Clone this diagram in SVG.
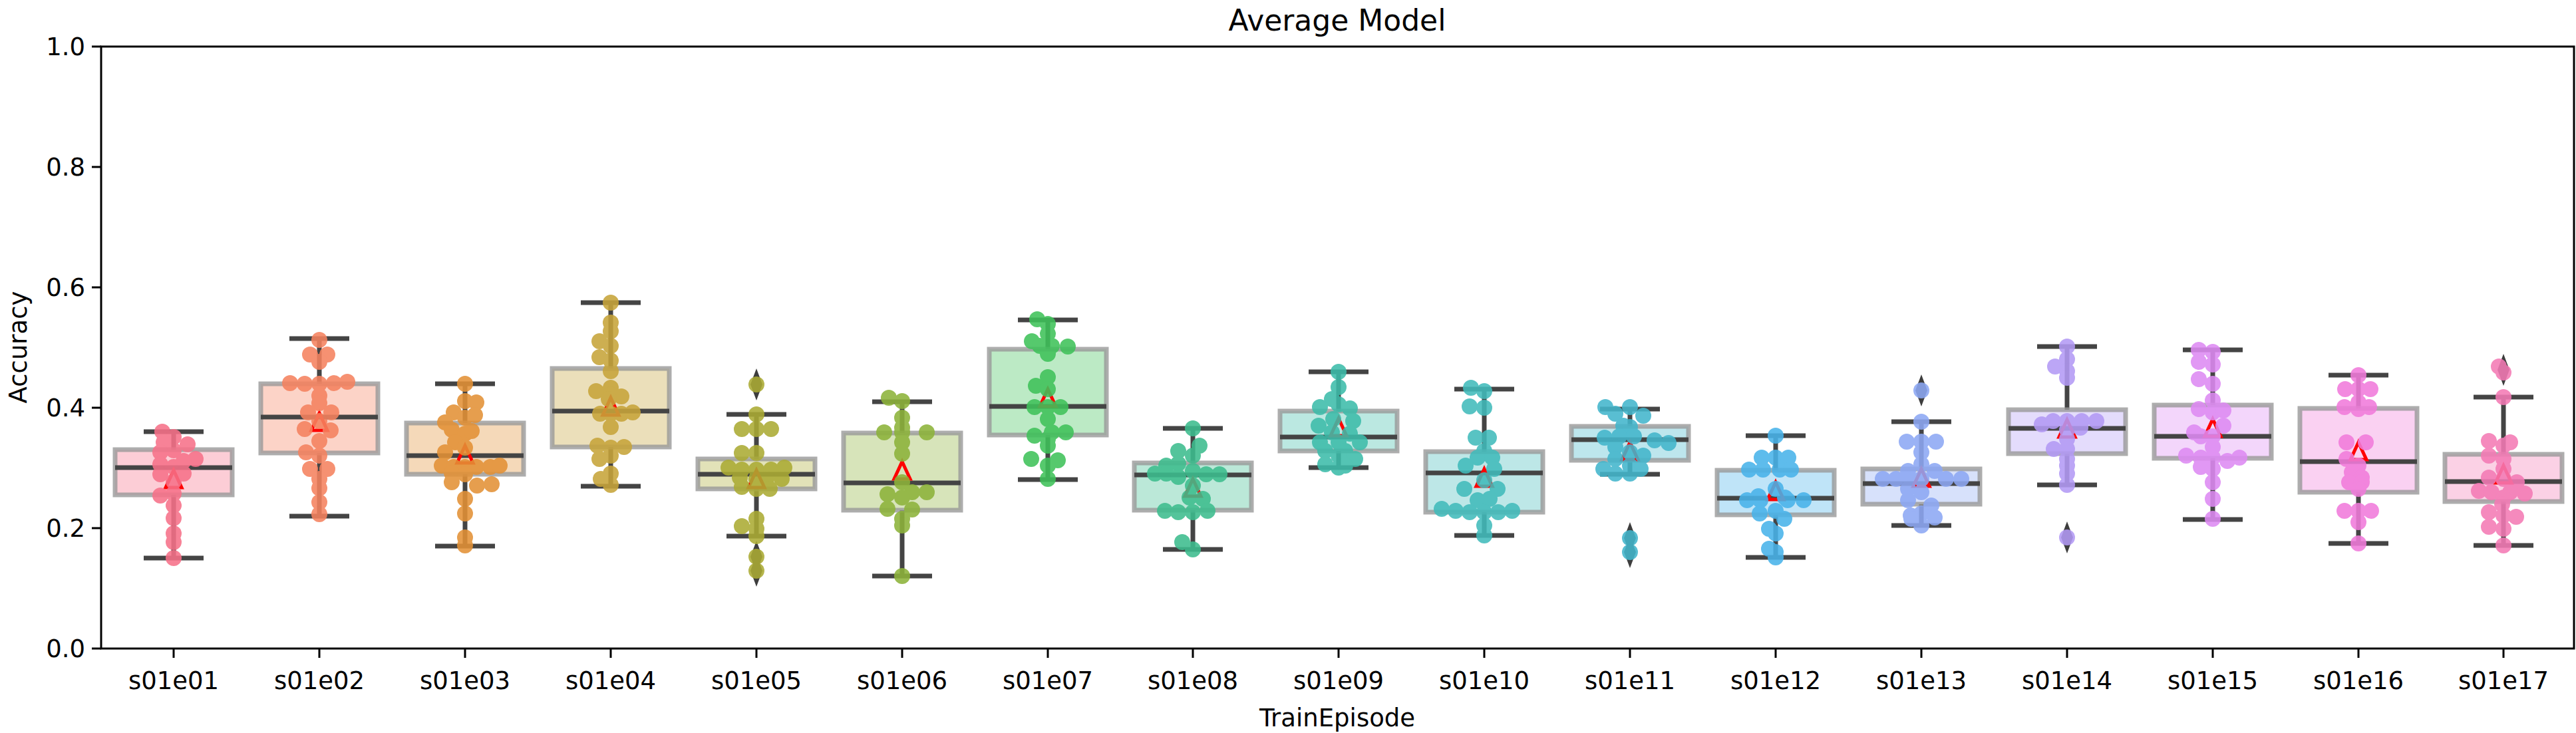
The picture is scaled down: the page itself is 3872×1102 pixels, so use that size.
<svg xmlns="http://www.w3.org/2000/svg" width="3872" height="1102" viewBox="0 0 3872 1102">
<style>
text{font-family:"DejaVu Sans","Liberation Sans",sans-serif;fill:#000}
.tl{font-size:37px;text-anchor:end}
.xl{font-size:37px;text-anchor:middle}
.box{fill-opacity:.35;stroke:#999;stroke-opacity:.8;stroke-width:7}
.wh{stroke:#444;stroke-width:7;fill:none}
.mean{fill:none;stroke:#f00;stroke-width:5}
.dots circle{r:12px}
.dots{opacity:.88}
.out{fill:#3d3d3d}
</style>
<defs>
<path id="dia" d="M0,-24 L9,0 L0,24 L-9,0Z"/>
<path id="tri" d="M0,-15 L12,11 L-12,11Z"/>
</defs>
<rect width="3872" height="1102" fill="#fff"/>
<text x="2010" y="46" style="font-size:44px" text-anchor="middle">Average Model</text>
<g id="axes" stroke="#000" stroke-width="3">
<rect x="152" y="70" width="3717" height="905" fill="none"/>
<path d="M138,975H152M138,794H152M138,613H152M138,432H152M138,251H152M138,70H152"/>
<path d="M261,975v14M480,975v14M699,975v14M918,975v14M1137,975v14M1356,975v14M1575,975v14M1793,975v14M2012,975v14M2231,975v14M2450,975v14M2669,975v14M2888,975v14M3107,975v14M3326,975v14M3545,975v14M3763,975v14"/>
</g>
<g id="yticks">
<text class="tl" x="128" y="988">0.0</text><text class="tl" x="128" y="807">0.2</text><text class="tl" x="128" y="626">0.4</text><text class="tl" x="128" y="445">0.6</text><text class="tl" x="128" y="264">0.8</text><text class="tl" x="128" y="83">1.0</text>
</g>
<text transform="translate(40,522) rotate(-90)" text-anchor="middle" style="font-size:37px">Accuracy</text>
<text x="2010" y="1092" text-anchor="middle" style="font-size:37px">TrainEpisode</text>
<g id="xticks">
<text class="xl" x="261" y="1036">s01e01</text><text class="xl" x="480" y="1036">s01e02</text><text class="xl" x="699" y="1036">s01e03</text><text class="xl" x="918" y="1036">s01e04</text><text class="xl" x="1137" y="1036">s01e05</text><text class="xl" x="1356" y="1036">s01e06</text><text class="xl" x="1575" y="1036">s01e07</text><text class="xl" x="1793" y="1036">s01e08</text><text class="xl" x="2012" y="1036">s01e09</text><text class="xl" x="2231" y="1036">s01e10</text><text class="xl" x="2450" y="1036">s01e11</text><text class="xl" x="2669" y="1036">s01e12</text><text class="xl" x="2888" y="1036">s01e13</text><text class="xl" x="3107" y="1036">s01e14</text><text class="xl" x="3326" y="1036">s01e15</text><text class="xl" x="3545" y="1036">s01e16</text><text class="xl" x="3763" y="1036">s01e17</text>
</g>

<g id="s01e01" transform="translate(261,0)">
<path class="wh" d="M0,676V649M-45,649H45M0,744V839M-45,839H45"/>
<rect class="box" x="-88" y="676" width="176" height="68" fill="#f77189"/>
<path class="wh" d="M-88,703H88"/>
<use href="#tri" class="mean" y="722"/>
<g class="dots" fill="#f77189"><circle cx="-17" cy="649"/><circle cx="0" cy="657"/><circle cx="-15" cy="665"/><circle cx="21" cy="668"/><circle cx="0" cy="677"/><circle cx="-20" cy="680"/><circle cx="33" cy="690"/><circle cx="-20" cy="698"/><circle cx="0" cy="702"/><circle cx="15" cy="693"/><circle cx="-20" cy="713"/><circle cx="15" cy="712"/><circle cx="0" cy="724"/><circle cx="-20" cy="745"/><circle cx="0" cy="742"/><circle cx="0" cy="760"/><circle cx="0" cy="779"/><circle cx="0" cy="802"/><circle cx="0" cy="815"/><circle cx="0" cy="839"/></g>
</g>

<g id="s01e02" transform="translate(480,0)">
<path class="wh" d="M0,577V509M-45,509H45M0,681V776M-45,776H45"/>
<rect class="box" x="-88" y="577" width="176" height="104" fill="#f5825f"/>
<path class="wh" d="M-88,627H88"/>
<use href="#tri" class="mean" y="636"/>
<g class="dots" fill="#f5825f"><circle cx="0" cy="511"/><circle cx="-14" cy="533"/><circle cx="12" cy="533"/><circle cx="0" cy="544"/><circle cx="-44" cy="576"/><circle cx="-22" cy="577"/><circle cx="0" cy="577"/><circle cx="22" cy="576"/><circle cx="42" cy="574"/><circle cx="0" cy="595"/><circle cx="0" cy="606"/><circle cx="-17" cy="620"/><circle cx="18" cy="620"/><circle cx="0" cy="633"/><circle cx="-22" cy="645"/><circle cx="17" cy="647"/><circle cx="0" cy="663"/><circle cx="-20" cy="680"/><circle cx="0" cy="685"/><circle cx="-14" cy="705"/><circle cx="12" cy="705"/><circle cx="0" cy="720"/><circle cx="0" cy="734"/><circle cx="0" cy="755"/><circle cx="0" cy="773"/></g>
</g>

<g id="s01e03" transform="translate(699,0)">
<path class="wh" d="M0,636V577M-45,577H45M0,713V821M-45,821H45"/>
<rect class="box" x="-88" y="636" width="176" height="77" fill="#e39136"/>
<path class="wh" d="M-88,685H88"/>
<use href="#tri" class="mean" y="685"/>
<g class="dots" fill="#e39136"><circle cx="0" cy="577"/><circle cx="0" cy="603"/><circle cx="17" cy="605"/><circle cx="-17" cy="620"/><circle cx="0" cy="628"/><circle cx="15" cy="624"/><circle cx="-30" cy="635"/><circle cx="-20" cy="646"/><circle cx="0" cy="652"/><circle cx="10" cy="648"/><circle cx="-15" cy="665"/><circle cx="0" cy="673"/><circle cx="-30" cy="680"/><circle cx="-35" cy="700"/><circle cx="0" cy="702"/><circle cx="-17" cy="702"/><circle cx="17" cy="702"/><circle cx="38" cy="702"/><circle cx="52" cy="700"/><circle cx="-20" cy="711"/><circle cx="0" cy="713"/><circle cx="-20" cy="725"/><circle cx="18" cy="730"/><circle cx="40" cy="728"/><circle cx="0" cy="750"/><circle cx="0" cy="772"/><circle cx="0" cy="808"/><circle cx="0" cy="820"/></g>
</g>

<g id="s01e04" transform="translate(918,0)">
<path class="wh" d="M0,554V455M-45,455H45M0,672V731M-45,731H45"/>
<rect class="box" x="-88" y="554" width="176" height="118" fill="#c7a43a"/>
<path class="wh" d="M-88,618H88"/>
<use href="#tri" class="mean" y="613"/>
<g class="dots" fill="#c7a43a"><circle cx="0" cy="455"/><circle cx="0" cy="485"/><circle cx="0" cy="498"/><circle cx="-17" cy="513"/><circle cx="0" cy="520"/><circle cx="-17" cy="537"/><circle cx="0" cy="542"/><circle cx="0" cy="558"/><circle cx="-22" cy="588"/><circle cx="0" cy="583"/><circle cx="0" cy="593"/><circle cx="16" cy="596"/><circle cx="-3" cy="600"/><circle cx="-16" cy="622"/><circle cx="0" cy="622"/><circle cx="16" cy="622"/><circle cx="33" cy="620"/><circle cx="0" cy="642"/><circle cx="-20" cy="670"/><circle cx="0" cy="673"/><circle cx="20" cy="672"/><circle cx="0" cy="685"/><circle cx="-17" cy="690"/><circle cx="0" cy="712"/><circle cx="0" cy="729"/><circle cx="-15" cy="720"/></g>
</g>

<g id="s01e05" transform="translate(1137,0)">
<path class="wh" d="M0,690V623M-45,623H45M0,735V806M-45,806H45"/>
<rect class="box" x="-88" y="690" width="176" height="45" fill="#abab34"/>
<path class="wh" d="M-88,713H88"/>
<use href="#tri" class="mean" y="722"/>
<use href="#dia" class="out" y="578"/><use href="#dia" class="out" y="837"/><use href="#dia" class="out" y="858"/>
<g class="dots" fill="#abab34"><circle cx="0" cy="578"/><circle cx="0" cy="623"/><circle cx="-22" cy="645"/><circle cx="0" cy="645"/><circle cx="22" cy="645"/><circle cx="-22" cy="681"/><circle cx="0" cy="681"/><circle cx="-42" cy="703"/><circle cx="-22" cy="706"/><circle cx="0" cy="706"/><circle cx="22" cy="706"/><circle cx="42" cy="703"/><circle cx="-25" cy="718"/><circle cx="0" cy="720"/><circle cx="15" cy="720"/><circle cx="38" cy="720"/><circle cx="-22" cy="732"/><circle cx="0" cy="735"/><circle cx="20" cy="735"/><circle cx="0" cy="780"/><circle cx="-22" cy="791"/><circle cx="0" cy="795"/><circle cx="0" cy="806"/><circle cx="0" cy="837"/><circle cx="0" cy="858"/></g>
</g>

<g id="s01e06" transform="translate(1356,0)">
<path class="wh" d="M0,651V604M-45,604H45M0,767V866M-45,866H45"/>
<rect class="box" x="-88" y="651" width="176" height="116" fill="#8db33a"/>
<path class="wh" d="M-88,726H88"/>
<use href="#tri" class="mean" y="709"/>
<g class="dots" fill="#8db33a"><circle cx="-20" cy="598"/><circle cx="0" cy="603"/><circle cx="0" cy="628"/><circle cx="0" cy="643"/><circle cx="-27" cy="650"/><circle cx="0" cy="650"/><circle cx="37" cy="650"/><circle cx="0" cy="665"/><circle cx="0" cy="682"/><circle cx="0" cy="725"/><circle cx="-22" cy="743"/><circle cx="15" cy="740"/><circle cx="37" cy="740"/><circle cx="0" cy="748"/><circle cx="-22" cy="765"/><circle cx="15" cy="766"/><circle cx="0" cy="780"/><circle cx="0" cy="790"/><circle cx="0" cy="866"/></g>
</g>

<g id="s01e07" transform="translate(1575,0)">
<path class="wh" d="M0,525V481M-45,481H45M0,654V721M-45,721H45"/>
<rect class="box" x="-88" y="525" width="176" height="129" fill="#3fc25a"/>
<path class="wh" d="M-88,611H88"/>
<use href="#tri" class="mean" y="600"/>
<g class="dots" fill="#3fc25a"><circle cx="-16" cy="480"/><circle cx="0" cy="487"/><circle cx="0" cy="502"/><circle cx="-24" cy="513"/><circle cx="-12" cy="520"/><circle cx="6" cy="520"/><circle cx="30" cy="521"/><circle cx="0" cy="532"/><circle cx="0" cy="567"/><circle cx="-18" cy="580"/><circle cx="0" cy="585"/><circle cx="-20" cy="612"/><circle cx="0" cy="612"/><circle cx="19" cy="612"/><circle cx="0" cy="630"/><circle cx="-20" cy="655"/><circle cx="6" cy="650"/><circle cx="27" cy="650"/><circle cx="0" cy="660"/><circle cx="0" cy="670"/><circle cx="-25" cy="690"/><circle cx="15" cy="692"/><circle cx="0" cy="700"/><circle cx="0" cy="720"/></g>
</g>

<g id="s01e08" transform="translate(1793,0)">
<path class="wh" d="M0,696V644M-45,644H45M0,767V826M-45,826H45"/>
<rect class="box" x="-88" y="696" width="176" height="71" fill="#3dbd8e"/>
<path class="wh" d="M-88,714H88"/>
<use href="#tri" class="mean" y="735"/>
<g class="dots" fill="#3dbd8e"><circle cx="0" cy="644"/><circle cx="10" cy="670"/><circle cx="-22" cy="678"/><circle cx="0" cy="685"/><circle cx="-22" cy="697"/><circle cx="0" cy="708"/><circle cx="-40" cy="700"/><circle cx="-57" cy="712"/><circle cx="-40" cy="712"/><circle cx="20" cy="713"/><circle cx="40" cy="713"/><circle cx="-22" cy="717"/><circle cx="0" cy="730"/><circle cx="-5" cy="748"/><circle cx="15" cy="750"/><circle cx="-42" cy="768"/><circle cx="-22" cy="770"/><circle cx="0" cy="770"/><circle cx="22" cy="768"/><circle cx="-16" cy="815"/><circle cx="0" cy="826"/></g>
</g>

<g id="s01e09" transform="translate(2012,0)">
<path class="wh" d="M0,618V559M-45,559H45M0,678V703M-45,703H45"/>
<rect class="box" x="-88" y="618" width="176" height="60" fill="#3dbcaa"/>
<path class="wh" d="M-88,657H88"/>
<use href="#tri" class="mean" y="644"/>
<g class="dots" fill="#3dbcaa"><circle cx="0" cy="559"/><circle cx="0" cy="582"/><circle cx="-10" cy="600"/><circle cx="0" cy="608"/><circle cx="17" cy="614"/><circle cx="-8" cy="630"/><circle cx="22" cy="633"/><circle cx="-10" cy="650"/><circle cx="17" cy="652"/><circle cx="0" cy="665"/><circle cx="-28" cy="665"/><circle cx="32" cy="665"/><circle cx="-20" cy="678"/><circle cx="10" cy="678"/><circle cx="0" cy="685"/><circle cx="25" cy="690"/><circle cx="-20" cy="698"/><circle cx="0" cy="703"/><circle cx="-28" cy="612"/><circle cx="-30" cy="640"/><circle cx="10" cy="700"/></g>
</g>

<g id="s01e10" transform="translate(2231,0)">
<path class="wh" d="M0,679V585M-45,585H45M0,770V805M-45,805H45"/>
<rect class="box" x="-88" y="679" width="176" height="91" fill="#41bbbb"/>
<path class="wh" d="M-88,711H88"/>
<use href="#tri" class="mean" y="720"/>
<g class="dots" fill="#41bbbb"><circle cx="-20" cy="583"/><circle cx="0" cy="588"/><circle cx="-22" cy="611"/><circle cx="0" cy="613"/><circle cx="-13" cy="658"/><circle cx="7" cy="658"/><circle cx="0" cy="678"/><circle cx="-10" cy="688"/><circle cx="12" cy="688"/><circle cx="-28" cy="700"/><circle cx="15" cy="705"/><circle cx="0" cy="722"/><circle cx="-30" cy="735"/><circle cx="20" cy="735"/><circle cx="-10" cy="752"/><circle cx="8" cy="750"/><circle cx="-64" cy="765"/><circle cx="-43" cy="768"/><circle cx="-22" cy="770"/><circle cx="0" cy="770"/><circle cx="21" cy="770"/><circle cx="42" cy="768"/><circle cx="0" cy="790"/><circle cx="0" cy="805"/></g>
</g>

<g id="s01e11" transform="translate(2450,0)">
<path class="wh" d="M0,641V615M-45,615H45M0,692V713M-45,713H45"/>
<rect class="box" x="-88" y="641" width="176" height="51" fill="#43b6cc"/>
<path class="wh" d="M-88,661H88"/>
<use href="#tri" class="mean" y="680"/>
<use href="#dia" class="out" y="809"/><use href="#dia" class="out" y="830"/>
<g class="dots" fill="#43b6cc"><circle cx="-37" cy="612"/><circle cx="0" cy="612"/><circle cx="-22" cy="622"/><circle cx="20" cy="625"/><circle cx="-10" cy="640"/><circle cx="0" cy="642"/><circle cx="-38" cy="658"/><circle cx="-16" cy="656"/><circle cx="6" cy="656"/><circle cx="37" cy="662"/><circle cx="58" cy="666"/><circle cx="-22" cy="672"/><circle cx="0" cy="680"/><circle cx="20" cy="685"/><circle cx="-22" cy="690"/><circle cx="0" cy="700"/><circle cx="-40" cy="705"/><circle cx="16" cy="705"/><circle cx="-22" cy="712"/><circle cx="0" cy="712"/><circle cx="0" cy="809"/><circle cx="0" cy="830"/></g>
</g>

<g id="s01e12" transform="translate(2669,0)">
<path class="wh" d="M0,707V655M-45,655H45M0,774V838M-45,838H45"/>
<rect class="box" x="-88" y="707" width="176" height="67" fill="#48b3ea"/>
<path class="wh" d="M-88,749H88"/>
<use href="#tri" class="mean" y="740"/>
<g class="dots" fill="#48b3ea"><circle cx="0" cy="655"/><circle cx="-21" cy="688"/><circle cx="0" cy="688"/><circle cx="19" cy="688"/><circle cx="-40" cy="706"/><circle cx="-19" cy="706"/><circle cx="6" cy="706"/><circle cx="23" cy="706"/><circle cx="0" cy="735"/><circle cx="-26" cy="746"/><circle cx="14" cy="748"/><circle cx="-43" cy="752"/><circle cx="-23" cy="752"/><circle cx="18" cy="752"/><circle cx="42" cy="752"/><circle cx="0" cy="768"/><circle cx="-24" cy="772"/><circle cx="13" cy="780"/><circle cx="-10" cy="795"/><circle cx="0" cy="802"/><circle cx="0" cy="830"/><circle cx="-10" cy="825"/><circle cx="0" cy="838"/></g>
</g>

<g id="s01e13" transform="translate(2888,0)">
<path class="wh" d="M0,705V634M-45,634H45M0,758V790M-45,790H45"/>
<rect class="box" x="-88" y="705" width="176" height="53" fill="#8da8f4"/>
<path class="wh" d="M-88,727H88"/>
<use href="#tri" class="mean" y="720"/>
<use href="#dia" class="out" y="587"/>
<g class="dots" fill="#8da8f4"><circle cx="0" cy="587"/><circle cx="0" cy="634"/><circle cx="-22" cy="664"/><circle cx="0" cy="664"/><circle cx="22" cy="664"/><circle cx="0" cy="680"/><circle cx="0" cy="698"/><circle cx="-20" cy="708"/><circle cx="20" cy="708"/><circle cx="-58" cy="720"/><circle cx="-38" cy="720"/><circle cx="-17" cy="720"/><circle cx="0" cy="720"/><circle cx="37" cy="720"/><circle cx="60" cy="720"/><circle cx="-20" cy="735"/><circle cx="0" cy="740"/><circle cx="-20" cy="752"/><circle cx="15" cy="760"/><circle cx="-16" cy="775"/><circle cx="0" cy="772"/><circle cx="20" cy="778"/><circle cx="0" cy="790"/><circle cx="-15" cy="780"/></g>
</g>

<g id="s01e14" transform="translate(3107,0)">
<path class="wh" d="M0,616V521M-45,521H45M0,682V729M-45,729H45"/>
<rect class="box" x="-88" y="616" width="176" height="66" fill="#b39af5"/>
<path class="wh" d="M-88,644H88"/>
<use href="#tri" class="mean" y="646"/>
<use href="#dia" class="out" y="808"/>
<g class="dots" fill="#b39af5"><circle cx="0" cy="521"/><circle cx="0" cy="540"/><circle cx="-18" cy="551"/><circle cx="0" cy="558"/><circle cx="0" cy="568"/><circle cx="-21" cy="633"/><circle cx="0" cy="633"/><circle cx="22" cy="633"/><circle cx="44" cy="633"/><circle cx="-38" cy="638"/><circle cx="20" cy="643"/><circle cx="0" cy="646"/><circle cx="0" cy="660"/><circle cx="-20" cy="675"/><circle cx="0" cy="675"/><circle cx="0" cy="690"/><circle cx="0" cy="700"/><circle cx="0" cy="712"/><circle cx="0" cy="729"/><circle cx="0" cy="808"/></g>
</g>

<g id="s01e15" transform="translate(3326,0)">
<path class="wh" d="M0,609V526M-45,526H45M0,689V781M-45,781H45"/>
<rect class="box" x="-88" y="609" width="176" height="80" fill="#de8af3"/>
<path class="wh" d="M-88,656H88"/>
<use href="#tri" class="mean" y="645"/>
<g class="dots" fill="#de8af3"><circle cx="-21" cy="526"/><circle cx="0" cy="529"/><circle cx="-21" cy="544"/><circle cx="0" cy="548"/><circle cx="-21" cy="570"/><circle cx="0" cy="577"/><circle cx="0" cy="602"/><circle cx="-21" cy="615"/><circle cx="0" cy="620"/><circle cx="16" cy="617"/><circle cx="16" cy="640"/><circle cx="-28" cy="650"/><circle cx="-18" cy="656"/><circle cx="0" cy="656"/><circle cx="0" cy="672"/><circle cx="-40" cy="685"/><circle cx="-18" cy="688"/><circle cx="0" cy="688"/><circle cx="22" cy="693"/><circle cx="40" cy="688"/><circle cx="-18" cy="702"/><circle cx="0" cy="705"/><circle cx="0" cy="725"/><circle cx="0" cy="750"/><circle cx="0" cy="780"/></g>
</g>

<g id="s01e16" transform="translate(3545,0)">
<path class="wh" d="M0,614V564M-45,564H45M0,740V817M-45,817H45"/>
<rect class="box" x="-88" y="614" width="176" height="126" fill="#f17bdb"/>
<path class="wh" d="M-88,694H88"/>
<use href="#tri" class="mean" y="680"/>
<g class="dots" fill="#f17bdb"><circle cx="0" cy="564"/><circle cx="-20" cy="585"/><circle cx="0" cy="585"/><circle cx="18" cy="585"/><circle cx="0" cy="605"/><circle cx="-21" cy="612"/><circle cx="0" cy="615"/><circle cx="16" cy="612"/><circle cx="-18" cy="665"/><circle cx="11" cy="665"/><circle cx="-18" cy="690"/><circle cx="0" cy="700"/><circle cx="-10" cy="710"/><circle cx="5" cy="718"/><circle cx="-14" cy="725"/><circle cx="5" cy="725"/><circle cx="0" cy="735"/><circle cx="-21" cy="768"/><circle cx="0" cy="768"/><circle cx="19" cy="768"/><circle cx="0" cy="785"/><circle cx="0" cy="817"/></g>
</g>

<g id="s01e17" transform="translate(3763,0)">
<path class="wh" d="M0,683V597M-45,597H45M0,754V820M-45,820H45"/>
<rect class="box" x="-88" y="683" width="176" height="71" fill="#f47ab5"/>
<path class="wh" d="M-88,724H88"/>
<use href="#tri" class="mean" y="715"/>
<use href="#dia" class="out" y="556"/>
<g class="dots" fill="#f47ab5"><circle cx="-7" cy="551"/><circle cx="0" cy="560"/><circle cx="0" cy="597"/><circle cx="-22" cy="663"/><circle cx="0" cy="670"/><circle cx="10" cy="665"/><circle cx="-22" cy="685"/><circle cx="0" cy="690"/><circle cx="0" cy="705"/><circle cx="-22" cy="718"/><circle cx="0" cy="720"/><circle cx="20" cy="725"/><circle cx="-37" cy="738"/><circle cx="-18" cy="740"/><circle cx="10" cy="740"/><circle cx="32" cy="742"/><circle cx="0" cy="748"/><circle cx="-2" cy="758"/><circle cx="-22" cy="770"/><circle cx="0" cy="775"/><circle cx="19" cy="777"/><circle cx="-22" cy="792"/><circle cx="0" cy="795"/><circle cx="0" cy="820"/></g>
</g>
</svg>
